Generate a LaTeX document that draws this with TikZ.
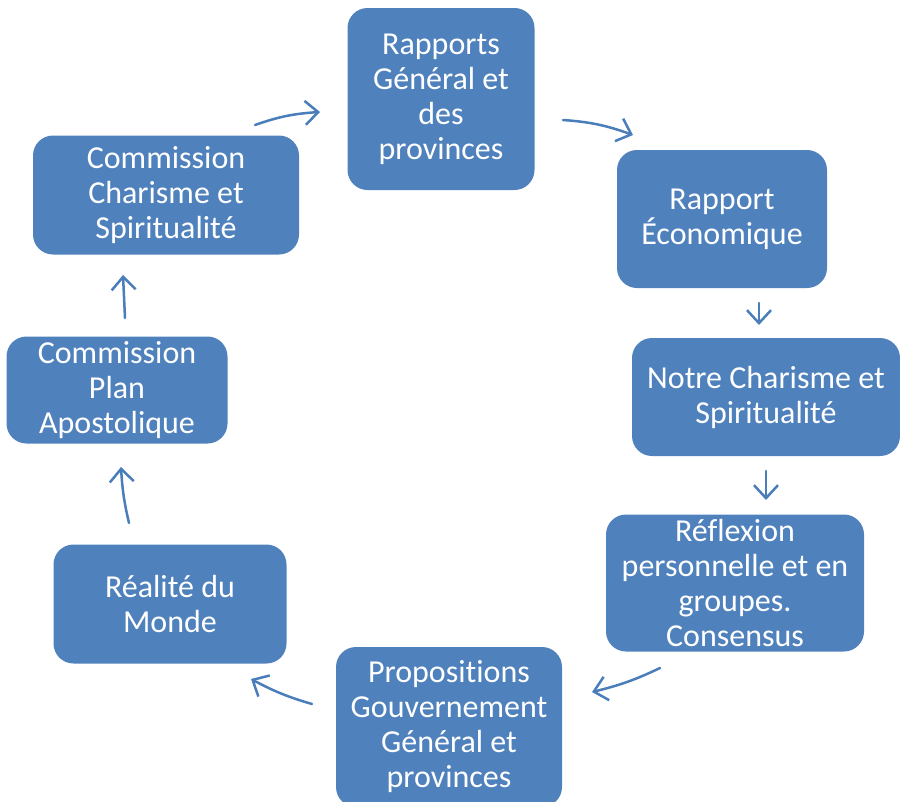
\documentclass[tikz,border=0pt]{standalone}
\usepackage{fontspec}
\setmainfont{Carlito}[Ligatures={NoCommon}]
\usepackage{xcolor}
\usetikzlibrary{arrows.meta,bending}

\definecolor{boxblue}{HTML}{4F81BD}
\definecolor{arrowblue}{HTML}{4A7EBB}

\tikzset{
	etape/.style={fill=boxblue, rounded corners=20pt, text=white, align=center,
		font=\fontsize{32}{35}\selectfont, inner sep=0pt},
	fleche/.style={draw=arrowblue, line width=2.5pt, line cap=round,
		-{Straight Barb[length=13pt,width=24pt,line width=2.5pt]}}
}

\begin{document}
\begin{tikzpicture}[x=1pt, y=-1pt]
		\useasboundingbox (0,0) rectangle (900,801);

		\node (R) [etape, minimum width=187pt, minimum height=182pt] at (441,99) {Rapports\\Général et\\des\\provinces};

		\node (E) [etape, minimum width=210pt, minimum height=138pt] at (722,219) {Rapport\\Économique};

		\node (N) [etape, minimum width=268pt, minimum height=118pt] at (766,397) {Notre Charisme et\\Spiritualité};

		\node (F) [etape, minimum width=258pt, minimum height=137pt] at (735,583) {Réflexion\\personnelle et en\\groupes.\\Consensus};

		\node (P) [etape, minimum width=226pt, minimum height=160pt] at (449,727) {Propositions\\Gouvernement\\Général et\\provinces};

		\node (M) [etape, minimum width=233pt, minimum height=119pt] at (170,604) {Réalité du\\Monde};

		\node (A) [etape, minimum width=221pt, minimum height=107pt] at (117,390) {Commission\\Plan\\Apostolique};

		\node (C) [etape, minimum width=266pt, minimum height=119pt] at (166,195) {Commission\\Charisme et\\Spiritualité};

		\coordinate (C-R1) at (255,125);
		\coordinate (C-R2) at (320,112);
		\coordinate (R-E1) at (563,120);
		\coordinate (R-E2) at (633,135);
		\coordinate (E-N1) at (759,303);
		\coordinate (E-N2) at (759,325);
		\coordinate (N-F1) at (766,471);
		\coordinate (N-F2) at (766,500);
		\coordinate (F-P1) at (660,668);
		\coordinate (F-P2) at (592,692);
		\coordinate (P-M1) at (312,704);
		\coordinate (P-M2) at (251,679);
		\coordinate (M-A1) at (129,523);
		\coordinate (M-A2) at (121,467);
		\coordinate (A-C1) at (125,318);
		\coordinate (A-C2) at (123,275);

		\draw [fleche] (C-R1) to[bend left=8] (C-R2);
		\draw [fleche] (R-E1) to[bend left=8] (R-E2);
		\draw [fleche] (E-N1) -- (E-N2);
		\draw [fleche] (N-F1) -- (N-F2);
		\draw [fleche] (F-P1) to[bend left=6] (F-P2);
		\draw [fleche] (P-M1) to[bend left=6] (P-M2);
		\draw [fleche] (M-A1) to[bend left=5] (M-A2);
		\draw [fleche] (A-C1) -- (A-C2);
	\end{tikzpicture}
\end{document}
